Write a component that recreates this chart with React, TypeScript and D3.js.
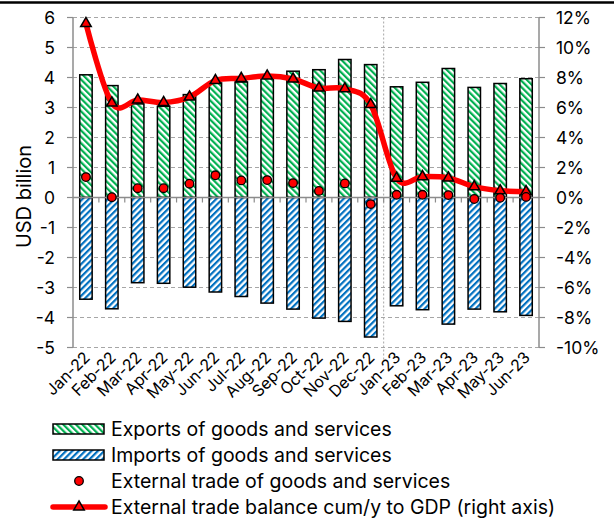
import React, { useEffect, useRef } from 'react';
import * as d3 from 'd3';

const months = ['Jan-22', 'Feb-22', 'Mar-22', 'Apr-22', 'May-22', 'Jun-22', 'Jul-22', 'Aug-22', 'Sep-22',
  'Oct-22', 'Nov-22', 'Dec-22', 'Jan-23', 'Feb-23', 'Mar-23', 'Apr-23', 'May-23', 'Jun-23'];
const exportsVals = [4.09, 3.73, 3.12, 3.04, 3.43, 3.82, 3.85, 3.99, 4.21, 4.26, 4.6, 4.43, 3.69, 3.84, 4.3, 3.67, 3.8, 3.96];
const importsVals = [-3.39, -3.71, -2.84, -2.86, -2.99, -3.15, -3.3, -3.52, -3.72, -4.02, -4.13, -4.65, -3.61, -3.74, -4.22, -3.72, -3.81, -3.93];
const tradeVals = [0.68, 0.01, 0.31, 0.31, 0.46, 0.74, 0.57, 0.58, 0.48, 0.22, 0.47, -0.22, 0.09, 0.09, 0.08, -0.05, -0.01, 0.02];
const balancePct = [11.6, 6.3, 6.5, 6.33, 6.7, 7.8, 7.94, 8.1, 7.9, 7.3, 7.25, 6.2, 1.28, 1.39, 1.3, 0.72, 0.45, 0.39];
const leftTicks = [6, 5, 4, 3, 2, 1, 0, -1, -2, -3, -4, -5];
const rightTicks = [12, 10, 8, 6, 4, 2, 0, -2, -4, -6, -8, -10];
const legendItems = [
  'Exports of goods and services',
  'Imports of goods and services',
  'External trade of goods and services',
  'External trade balance cum/y to GDP (right axis)',
];

const FONT = 'Inter, sans-serif';
const GREEN = '#00B050';
const BLUE = '#0070C0';
const GRID = '#a6a6a6';

const TradeChart: React.FC = () => {
  const svgRef = useRef<SVGSVGElement>(null);

  useEffect(() => {
    if (!svgRef.current) return;
    const svg = d3.select(svgRef.current);
    svg.selectAll('*').remove();

    const left = 73, right = 539, top = 17.5, bottom = 347.5;

    // patterns
    const defs = svg.append('defs');
    const mkPattern = (id: string, color: string, angle: number) => {
      const p = defs.append('pattern')
        .attr('id', id)
        .attr('patternUnits', 'userSpaceOnUse')
        .attr('width', 4.5)
        .attr('height', 4.5)
        .attr('patternTransform', `rotate(${angle})`);
      p.append('rect').attr('width', 4.5).attr('height', 4.5).attr('fill', '#fff');
      p.append('rect').attr('width', 2.2).attr('height', 4.5).attr('fill', color);
    };
    mkPattern('greenHatch', GREEN, -45);
    mkPattern('blueHatch', BLUE, 45);

    // scales
    const x = d3.scaleBand<string>().domain(months).range([left, right]);
    const y = d3.scaleLinear().domain([-5, 6]).range([bottom, top]);
    const y2 = d3.scaleLinear().domain([-10, 12]).range([bottom, top]);
    const bw = x.bandwidth() * 0.48;
    const cx = (m: string) => (x(m) as number) + x.bandwidth() / 2;

    // top rule
    svg.append('line').attr('x1', 0).attr('x2', 614).attr('y1', 2.5).attr('y2', 2.5)
      .attr('stroke', '#000').attr('stroke-width', 2.5);

    // gridlines
    svg.append('g').selectAll('line').data(leftTicks.filter(t => t !== 0)).join('line')
      .attr('x1', left).attr('x2', right)
      .attr('y1', d => y(d)).attr('y2', d => y(d))
      .attr('stroke', GRID).attr('stroke-dasharray', '4,3').attr('stroke-width', 1);

    // year divider
    svg.append('line')
      .attr('x1', x('Jan-23') as number).attr('x2', x('Jan-23') as number)
      .attr('y1', top).attr('y2', 362)
      .attr('stroke', GRID).attr('stroke-dasharray', '2,2').attr('stroke-width', 1);

    // bars
    svg.append('g').selectAll('rect').data(months).join('rect')
      .attr('x', d => cx(d) - bw / 2)
      .attr('y', (d, i) => y(exportsVals[i]))
      .attr('width', bw)
      .attr('height', (d, i) => y(0) - y(exportsVals[i]))
      .attr('fill', 'url(#greenHatch)').attr('stroke', '#000').attr('stroke-width', 1.5);
    svg.append('g').selectAll('rect').data(months).join('rect')
      .attr('x', d => cx(d) - bw / 2)
      .attr('y', y(0))
      .attr('width', bw)
      .attr('height', (d, i) => y(importsVals[i]) - y(0))
      .attr('fill', 'url(#blueHatch)').attr('stroke', '#000').attr('stroke-width', 1.5);

    // zero axis with minor ticks
    svg.append('line').attr('x1', left).attr('x2', right).attr('y1', y(0)).attr('y2', y(0))
      .attr('stroke', '#8c8c8c').attr('stroke-width', 1.5);
    svg.append('g').selectAll('line').data(months.slice(1)).join('line')
      .attr('x1', d => x(d) as number).attr('x2', d => x(d) as number)
      .attr('y1', y(0)).attr('y2', y(0) + 5)
      .attr('stroke', '#8c8c8c').attr('stroke-width', 1.2);

    // left axis
    svg.append('line').attr('x1', left).attr('x2', left).attr('y1', top).attr('y2', bottom)
      .attr('stroke', '#8c8c8c').attr('stroke-width', 1.5);
    const la = svg.append('g');
    la.selectAll('line').data(leftTicks).join('line')
      .attr('x1', left - 6).attr('x2', left).attr('y1', d => y(d)).attr('y2', d => y(d))
      .attr('stroke', '#8c8c8c').attr('stroke-width', 1.2);
    la.selectAll('text').data(leftTicks).join('text')
      .attr('x', 55).attr('y', d => y(d)).attr('dy', '0.35em')
      .attr('text-anchor', 'end').attr('font-family', FONT).attr('font-size', 17.5)
      .text(d => d);

    // right axis
    svg.append('line').attr('x1', right).attr('x2', right).attr('y1', top).attr('y2', bottom)
      .attr('stroke', '#8c8c8c').attr('stroke-width', 1.5);
    const ra = svg.append('g');
    ra.selectAll('line').data(rightTicks).join('line')
      .attr('x1', right).attr('x2', right + 6).attr('y1', d => y2(d)).attr('y2', d => y2(d))
      .attr('stroke', '#8c8c8c').attr('stroke-width', 1.2);
    ra.selectAll('text').data(rightTicks).join('text')
      .attr('x', 556).attr('y', d => y2(d)).attr('dy', '0.35em')
      .attr('font-family', FONT).attr('font-size', 17.5)
      .text(d => `${d}%`);

    // y title
    svg.append('text')
      .attr('transform', `translate(31,${y(0) - 1}) rotate(-90)`)
      .attr('text-anchor', 'middle').attr('font-family', FONT).attr('font-size', 20)
      .text('USD billion');

    // x labels
    svg.append('g').selectAll('text').data(months).join('text')
      .attr('transform', d => `translate(${cx(d) + 5},${bottom + 11}) rotate(-45)`)
      .attr('text-anchor', 'end').attr('font-family', FONT).attr('font-size', 16)
      .text(d => d);

    // balance line
    const line = d3.line<number>()
      .x((d, i) => cx(months[i]))
      .y(d => y2(d))
      .curve(d3.curveCatmullRom.alpha(0));
    svg.append('path').datum(balancePct)
      .attr('d', line).attr('fill', 'none').attr('stroke', '#ff0000').attr('stroke-width', 5.5)
      .attr('stroke-linejoin', 'round');
    const tri = d3.symbol().type(d3.symbolTriangle).size(48);
    svg.append('g').selectAll('path').data(balancePct).join('path')
      .attr('d', tri)
      .attr('transform', (d, i) => `translate(${cx(months[i])},${y2(d)})`)
      .attr('fill', '#ff0000').attr('stroke', '#000').attr('stroke-width', 1.5);

    // trade dots
    svg.append('g').selectAll('circle').data(tradeVals).join('circle')
      .attr('cx', (d, i) => cx(months[i])).attr('cy', d => y(d)).attr('r', 4.3)
      .attr('fill', '#ff0000').attr('stroke', '#000').attr('stroke-width', 1.3);

    // legend
    const lg = svg.append('g');
    const rowY = [429, 455, 481, 507];
    lg.append('rect').attr('x', 53).attr('y', rowY[0] - 5).attr('width', 51).attr('height', 10)
      .attr('fill', 'url(#greenHatch)').attr('stroke', '#000').attr('stroke-width', 1.5);
    lg.append('rect').attr('x', 53).attr('y', rowY[1] - 5).attr('width', 51).attr('height', 10)
      .attr('fill', 'url(#blueHatch)').attr('stroke', '#000').attr('stroke-width', 1.5);
    lg.append('circle').attr('cx', 79).attr('cy', rowY[2]).attr('r', 4.3)
      .attr('fill', '#ff0000').attr('stroke', '#000').attr('stroke-width', 1.3);
    lg.append('line').attr('x1', 53).attr('x2', 105).attr('y1', rowY[3]).attr('y2', rowY[3])
      .attr('stroke', '#ff0000').attr('stroke-width', 5.5).attr('stroke-linecap', 'round');
    lg.append('path').attr('d', tri).attr('transform', `translate(79,${rowY[3]})`)
      .attr('fill', '#ff0000').attr('stroke', '#000').attr('stroke-width', 1.5);
    lg.selectAll('text').data(legendItems).join('text')
      .attr('x', 111).attr('y', (d, i) => rowY[i]).attr('dy', '0.35em')
      .attr('font-family', FONT).attr('font-size', 19.5)
      .text(d => d);
  }, []);

  return (
    <svg ref={svgRef} width={614} height={521}
      style={{ position: 'absolute', left: 0, top: 0, background: '#fff' }} />
  );
};

export default function App() {
  return <TradeChart />;
}
